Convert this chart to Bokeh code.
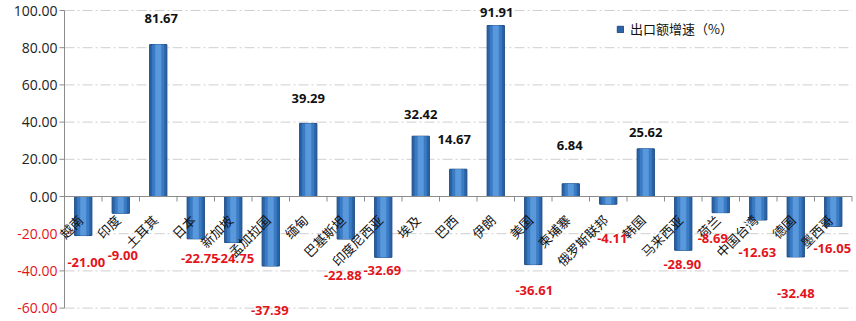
import math
from bokeh.plotting import figure
from bokeh.models import ColumnDataSource, LabelSet, Legend, LegendItem
from bokeh.core.properties import value
from bokeh.embed import file_html
from bokeh.resources import INLINE

# ---- data ----
categories = ["越南", "印度", "土耳其", "日本", "新加坡", "孟加拉国", "缅甸", "巴基斯坦",
              "印度尼西亚", "埃及", "巴西", "伊朗", "美国", "柬埔寨", "俄罗斯联邦", "韩国",
              "马来西亚", "荷兰", "中国台湾", "德国", "墨西哥"]
growth = [-21.00, -9.00, 81.67, -22.75, -24.75, -37.39, 39.29, -22.88,
          -32.69, 32.42, 14.67, 91.91, -36.61, 6.84, -4.11, 25.62,
          -28.90, -8.69, -12.63, -32.48, -16.05]
y_ticks = [-60, -40, -20, 0, 20, 40, 60, 80, 100]
series_name = "出口额增速（%）"

# label placement (screen px): distance of value label from bar end, horizontal nudge
label_gap = [27, 42, 26, 20, 16, 44, 25, 36, 13, 22, 30, 13, 26, 38, 34, 16, 14, 26, 33, 37, 22]
label_dx = [3, 2, 3, 4, 2, -1, 0, -3, -1, 0, -4, 1, 1, -1, 4, 0, -1, -8, -1, 0, -1]

# ---- layout (screen px) ----
W, H = 856, 321
PLOT_L, PLOT_R, PLOT_T, PLOT_B = 64.0, 851.5, 10.0, 307.6
RED = "#e3141b"
AXIS = "#8c8c8c"

n = len(categories)
ymin, ymax = y_ticks[0], y_ticks[-1]
kx = n / (PLOT_R - PLOT_L)            # data units per px (x)
ky = (ymax - ymin) / (PLOT_B - PLOT_T)  # data units per px (y)
x_range = (-PLOT_L * kx, n + (W - PLOT_R) * kx)
y_range = (ymin - (H - PLOT_B) * ky, ymax + PLOT_T * ky)

xs = [i + 0.5 for i in range(n)]
src = ColumnDataSource(dict(
    x=xs, top=growth, cat=categories,
    txt=["%.2f" % v for v in growth],
    col=["#111111" if v >= 0 else RED for v in growth],
    yoff=[g if v >= 0 else -g for v, g in zip(growth, label_gap)],
    xoff=label_dx,
))

p = figure(width=W, height=H, x_range=x_range, y_range=y_range,
           output_backend="svg", toolbar_location=None,
           min_border=0, min_border_left=0, min_border_right=0, min_border_top=0, min_border_bottom=0)
p.outline_line_color = None
p.background_fill_color = "white"
p.axis.visible = False
p.grid.visible = False

# gridlines (dash-dot, light), skipping the zero line which is the category axis
grid_y = [t for t in y_ticks if t != 0]
p.segment(x0=[0] * len(grid_y), x1=[n] * len(grid_y), y0=grid_y, y1=grid_y,
          line_color="#cfcfcf", line_width=1, line_dash="10 3 2 3")

# value axis line and ticks
p.segment(x0=[0], x1=[0], y0=[ymin], y1=[ymax], line_color=AXIS, line_width=1)
p.segment(x0=[0] * len(y_ticks), x1=[-5 * kx] * len(y_ticks), y0=y_ticks, y1=y_ticks,
          line_color=AXIS, line_width=1)

# bars with a cylinder-like shading
main = p.vbar(x="x", top="top", bottom=0, width=0.46, source=src,
              fill_color="#2a63a8", line_color="#1d4b82", line_width=1)
p.vbar(x="x", top="top", bottom=0, width=0.32, source=src,
       fill_color="#3a7bc4", line_color=None)
p.vbar(x="x", top="top", bottom=0, width=0.16, source=src,
       fill_color="#5a98dc", line_color=None)

# category axis at zero with tick marks at category boundaries
p.segment(x0=[0], x1=[n], y0=[0], y1=[0], line_color=AXIS, line_width=1)
bounds = list(range(1, n + 1))
p.segment(x0=bounds, x1=bounds, y0=[0] * n, y1=[-5 * ky] * n,
          line_color=AXIS, line_width=1)

# y tick labels (negative in red)
tick_src = ColumnDataSource(dict(
    x=[0] * len(y_ticks), y=y_ticks,
    txt=["%.2f" % t for t in y_ticks],
    col=[RED if t < 0 else "#222222" for t in y_ticks]))
p.add_layout(LabelSet(x="x", y="y", text="txt", source=tick_src, x_offset=-7,
                      text_align="right", text_baseline="middle", text_color="col",
                      text_font=value("Open Sans"), text_font_size="14px"))

# category labels, rotated
p.add_layout(LabelSet(x="x", y=0, text="cat", source=src, angle=math.pi / 4,
                      x_offset=-3, y_offset=-21, text_align="right", text_baseline="middle",
                      text_color="#111111", text_font=value("Noto Sans CJK SC"),
                      text_font_size="13px"))

# value labels
p.add_layout(LabelSet(x="x", y="top", text="txt", source=src, x_offset="xoff", y_offset="yoff",
                      text_align="center", text_baseline="middle", text_color="col",
                      text_font=value("Open Sans"), text_font_style="bold",
                      text_font_size="13px"))

legend = Legend(items=[LegendItem(label=series_name, renderers=[main])],
                location=(616, 283), orientation="vertical",
                glyph_width=8, glyph_height=8, label_standoff=6, padding=0, margin=0,
                label_text_font="Noto Sans CJK SC", label_text_font_size="13px",
                label_text_color="#111111", background_fill_alpha=0, border_line_color=None)
p.add_layout(legend)

open("out.html", "w").write(file_html(p, INLINE))
